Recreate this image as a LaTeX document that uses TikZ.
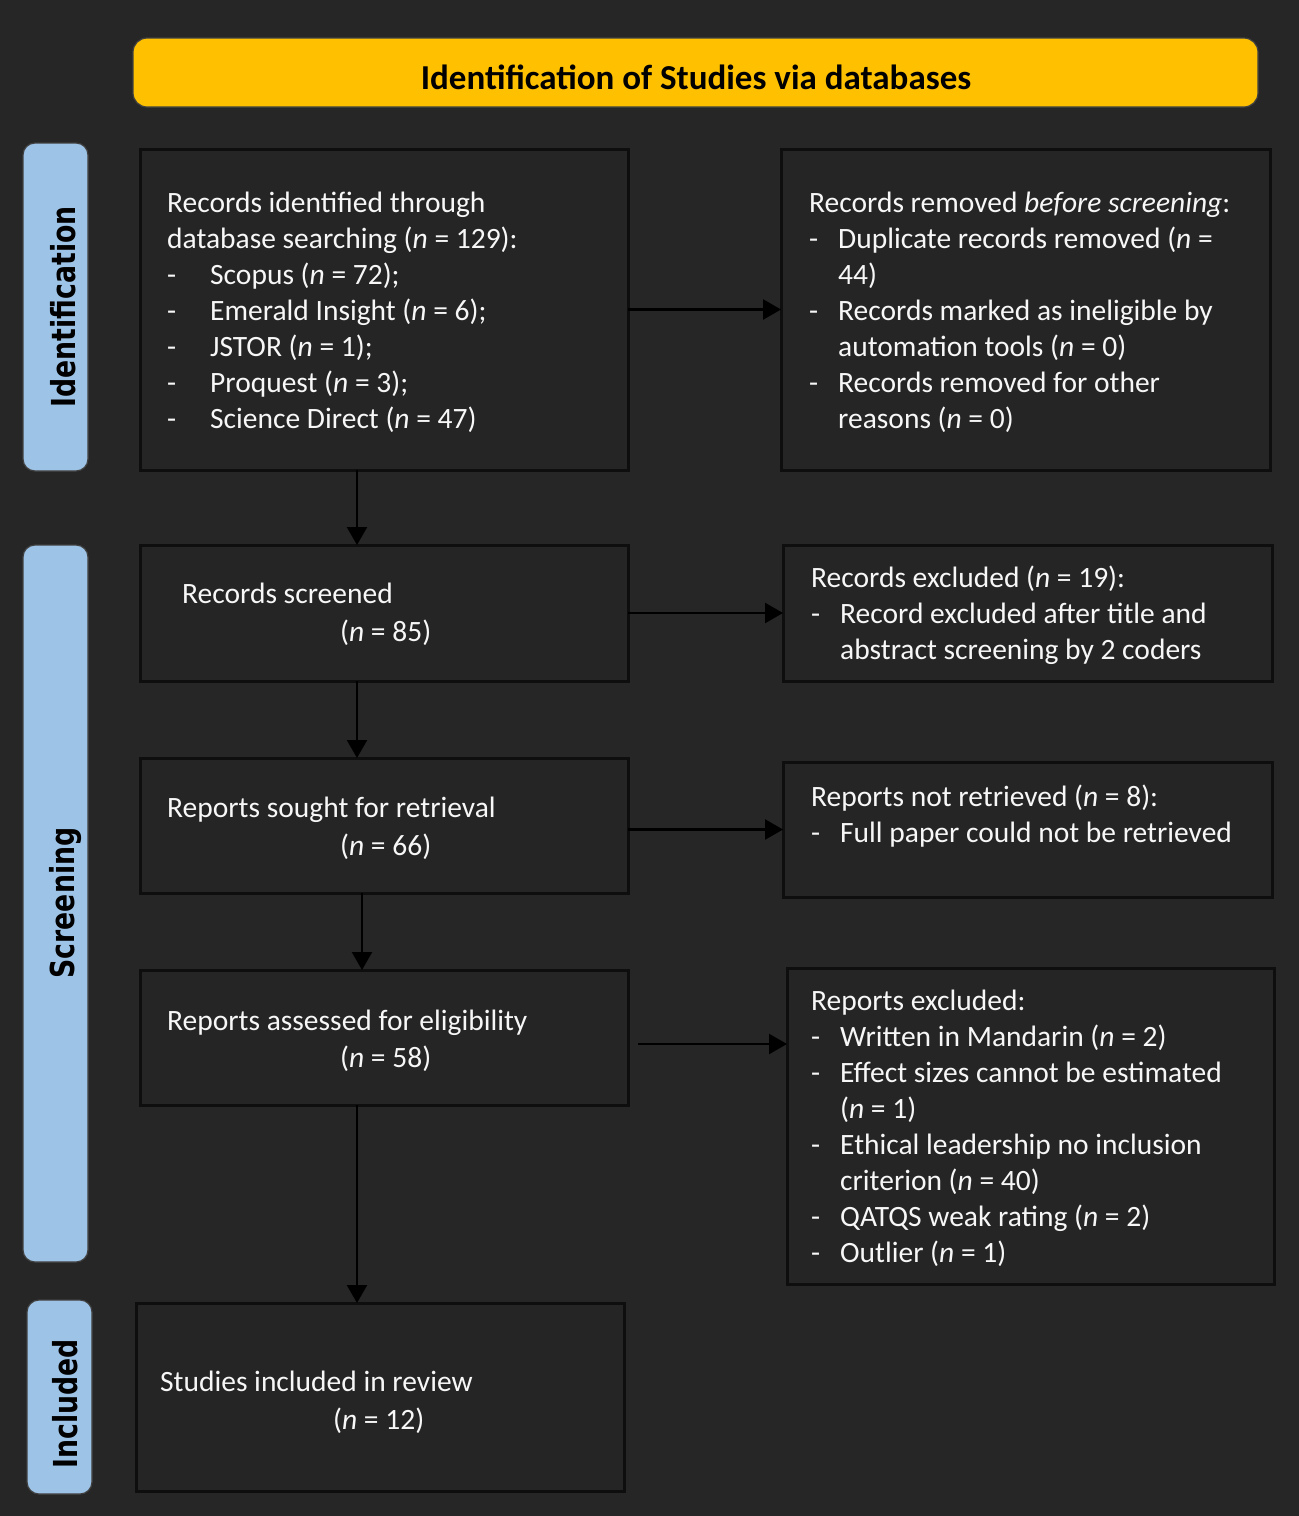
\documentclass[tikz,border=0pt]{standalone}
\usepackage{fontspec}
\usetikzlibrary{arrows.meta,calc}
\newfontfamily\bodyfont{Carlito}
\newfontfamily\phasefnt[FakeStretch=0.81]{DejaVu Sans Bold}
\definecolor{bgcol}{HTML}{262626}
\definecolor{boxfill}{HTML}{252525}
\definecolor{boxline}{HTML}{0E0E0E}
\definecolor{hdryellow}{HTML}{FFC000}
\definecolor{phaseblue}{HTML}{9DC3E6}
\definecolor{txtwhite}{HTML}{F7F7F7}
\newcommand\lns[1]{\begin{tabular}[t]{@{}l@{}}#1\end{tabular}}
\newcommand\itmL[1]{\makebox[43pt][l]{-}#1}
\newcommand\itmR[1]{\makebox[29pt][l]{-}#1}
\newcommand\cntR[1]{\hspace*{29pt}#1}
\newcommand\nn{\textit{n}}
\tikzset{
  box/.style={draw=boxline, line width=3pt, fill=boxfill, inner sep=0pt, outer sep=0pt},
  txt/.style={anchor=base west, inner sep=0pt, text=txtwhite,
              font=\bodyfont\fontsize{29.5}{36}\selectfont},
  arr/.style={draw=black, line width=2.4pt, -{Triangle[length=18pt,width=20pt]}},
  phase/.style={draw=black!75, line width=1.2pt, fill=phaseblue, rounded corners=12pt},
  ptxt/.style={rotate=90, anchor=base, inner sep=0pt, text=black,
               font=\phasefnt\fontsize{33}{36}\selectfont},
}
\begin{document}
\begin{tikzpicture}[x=1pt,y=-1pt]
\fill[bgcol] (0,0) rectangle (1299,1516);
\useasboundingbox (0,0) rectangle (1299,1516);

% header
\draw[draw=black!75, line width=1.2pt, fill=hdryellow, rounded corners=14pt] (133,38) rectangle (1258,107);
\node[anchor=base, inner sep=0pt, text=black, font=\bodyfont\bfseries\fontsize{35}{40}\selectfont] (hdr) at (696,89) {Identification of Studies via databases};

% phase labels
\draw[phase] (23,143) rectangle (88,471);
\node[ptxt] (pid) at (75,307) {Identification};
\draw[phase] (23,545) rectangle (88,1262);
\node[ptxt] (psc) at (74,903) {Screening};
\draw[phase] (27,1300) rectangle (92,1494);
\node[ptxt] (pin) at (77,1404) {Included};

% boxes
\node[box, minimum width=488pt, minimum height=321pt] (b1) at (384,309.5) {};
\node[box, minimum width=489pt, minimum height=321pt] (r1) at (1025.5,309.5) {};
\node[box, minimum width=488pt, minimum height=136pt] (b2) at (384,613) {};
\node[box, minimum width=489pt, minimum height=136pt] (r2) at (1027.5,613) {};
\node[box, minimum width=488pt, minimum height=135pt] (b3) at (384,825.5) {};
\node[box, minimum width=489pt, minimum height=135pt] (r3) at (1027.5,829.5) {};
\node[box, minimum width=488pt, minimum height=135pt] (b4) at (384,1037.5) {};
\node[box, minimum width=487pt, minimum height=316pt] (r4) at (1030.5,1126) {};
\node[box, minimum width=488pt, minimum height=188pt] (b5) at (380,1397) {};

% texts
\node[txt] (tb1) at (167,212) {\lns{Records identified through\\
database searching (\nn{} = 129):\\
\itmL{Scopus (\nn{} = 72);}\\
\itmL{Emerald Insight (\nn{} = 6);}\\
\itmL{JSTOR (\nn{} = 1);}\\
\itmL{Proquest (\nn{} = 3);}\\
\itmL{Science Direct (\nn{} = 47)}}};

\node[txt] (tr1) at (809,212) {\lns{Records removed \textit{before screening}:\\
\itmR{Duplicate records removed (\nn{} =}\\
\cntR{44)}\\
\itmR{Records marked as ineligible by}\\
\cntR{automation tools (\nn{} = 0)}\\
\itmR{Records removed for other}\\
\cntR{reasons (\nn{} = 0)}}};

\node[txt] (tb2a) at (182,603) {Records screened};
\node[txt] (tb2b) at (340,641) {(\nn{} = 85)};

\node[txt] (tr2) at (811,587) {\lns{Records excluded (\nn{} = 19):\\
\itmR{Record excluded after title and}\\
\cntR{abstract screening by 2 coders}}};

\node[txt] (tb3a) at (167,817) {Reports sought for retrieval};
\node[txt] (tb3b) at (340,855) {(\nn{} = 66)};

\node[txt] (tr3) at (811,806) {\lns{Reports not retrieved (\nn{} = 8):\\
\itmR{Full paper could not be retrieved}}};

\node[txt] (tb4a) at (167,1030) {Reports assessed for eligibility};
\node[txt] (tb4b) at (340,1067) {(\nn{} = 58)};

\node[txt] (tr4) at (811,1010) {\lns{Reports excluded:\\
\itmR{Written in Mandarin (\nn{} = 2)}\\
\itmR{Effect sizes cannot be estimated}\\
\cntR{(\nn{} = 1)}\\
\itmR{Ethical leadership no inclusion}\\
\cntR{criterion (\nn{} = 40)}\\
\itmR{QATQS weak rating (\nn{} = 2)}\\
\itmR{Outlier (\nn{} = 1)}}};

\node[txt] (tb5a) at (160,1391) {Studies included in review};
\node[txt] (tb5b) at (333,1429) {(\nn{} = 12)};

% arrows
\draw[arr] ([xshift=-27pt]b1.south) -- ([xshift=-27pt]b2.north);
\draw[arr] ([xshift=-27pt]b2.south) -- ([xshift=-27pt]b3.north);
\draw[arr] ([xshift=-22pt]b3.south) -- ([xshift=-22pt]b4.north);
\draw[arr] ([xshift=-27pt]b4.south) -- ([xshift=-23pt]b5.north);

\draw[arr] (b1.east) -- (b1.east -| r1.west);
\draw[arr] (b2.east) -- (b2.east -| r2.west);
\draw[arr] (b3.east |- r3.west) -- (r3.west);
\coordinate (b4e) at ($(b4.east)+(0,6.5)$);
\draw[arr, shorten <=10pt] (b4e) -- (b4e -| r4.west);
\end{tikzpicture}
\end{document}
